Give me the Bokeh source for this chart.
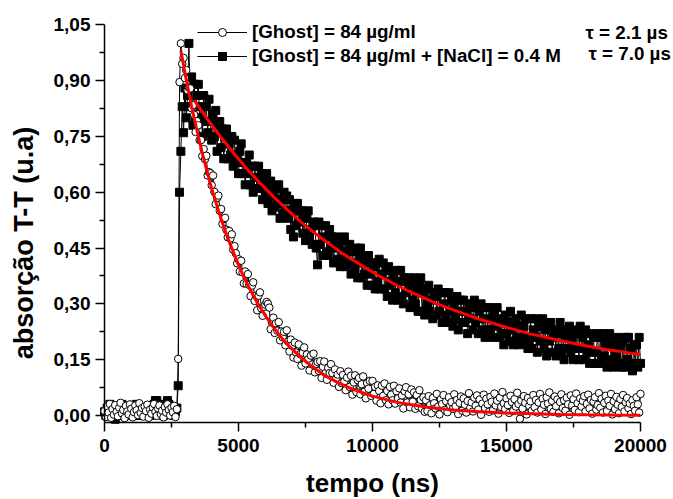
import math
from bokeh.plotting import figure
from bokeh.models import (Range1d, FixedTicker, CustomJSTickFormatter,
                          Legend, LegendItem, Label)
from bokeh.embed import file_html
from bokeh.resources import INLINE

# ---------------- data ----------------
# sampling grid of both traces (ns)
t_start = 0
t_step = 50

# [Ghost] = 84 ug/ml  (open circles)
ghost_y = [
    0.012, -0.004, 0.025, 0.008, 0.031, -0.006, 0.017, 0.002, 0.028, 0.010,
    -0.002, 0.021, 0.034, 0.006, 0.015, -0.007, 0.026, 0.011, 0.003, 0.030,
    0.018, -0.005, 0.009, 0.027, 0.014, 0.001, 0.033, 0.007, 0.020, -0.003,
    0.024, 0.012, 0.029, -0.006, 0.016, 0.005, 0.022, 0.031, 0.010, -0.001,
    0.019, 0.027, 0.004, 0.013, -0.005, 0.023, 0.008, 0.030, 0.015, 0.000,
    0.021, 0.009, 0.026, -0.004, 0.017,
    0.152, 0.896, 1.000, 0.945,
    0.961, 0.907, 0.928, 0.874, 0.881, 0.879, 0.826, 0.834, 0.808, 0.762, 0.791,
    0.780, 0.740, 0.740, 0.697, 0.716, 0.689, 0.698, 0.645, 0.654, 0.651,
    0.619, 0.645, 0.601, 0.568, 0.585, 0.591, 0.550, 0.555, 0.515, 0.528,
    0.531, 0.499, 0.479, 0.496, 0.476, 0.487, 0.446, 0.455, 0.436, 0.409,
    0.420, 0.387, 0.416, 0.385, 0.355, 0.387, 0.354, 0.380, 0.351, 0.321,
    0.349, 0.358, 0.308, 0.322, 0.283, 0.322, 0.331, 0.288, 0.268, 0.292,
    0.298, 0.305, 0.300, 0.290, 0.232, 0.250, 0.263, 0.222, 0.248, 0.228,
    0.251, 0.202, 0.226, 0.210, 0.225, 0.189, 0.229, 0.199, 0.172, 0.204,
    0.188, 0.156, 0.196, 0.169, 0.152, 0.191, 0.165, 0.134, 0.169, 0.183,
    0.140, 0.164, 0.151, 0.121, 0.161, 0.137, 0.166, 0.116, 0.139, 0.144,
    0.120, 0.146, 0.101, 0.131, 0.145, 0.114, 0.096, 0.128, 0.114, 0.138,
    0.114, 0.088, 0.124, 0.100, 0.110, 0.077, 0.119, 0.087, 0.109, 0.092,
    0.068, 0.102, 0.118, 0.077, 0.107, 0.056, 0.089, 0.108, 0.063, 0.095,
    0.101, 0.057, 0.084, 0.105, 0.064, 0.046, 0.087, 0.072, 0.093, 0.053,
    0.093, 0.058, 0.077, 0.040, 0.081, 0.066, 0.033, 0.080, 0.053, 0.086,
    0.041, 0.066, 0.030, 0.077, 0.056, 0.041, 0.080, 0.032, 0.065, 0.046,
    0.073, 0.035, 0.054, 0.019, 0.065, 0.076, 0.035, 0.057, 0.022, 0.070,
    0.037, 0.062, 0.018, 0.055, 0.025, 0.068, 0.042, 0.019, 0.049, 0.010,
    0.041, 0.012, 0.052, 0.028, 0.006, 0.047, 0.033, 0.019, 0.058, 0.024,
    0.003, 0.044, 0.031, 0.055, 0.015, 0.038, 0.009, 0.049, 0.027, 0.036,
    0.018, 0.057, 0.025, 0.042, 0.004, 0.034, 0.051, 0.013, 0.046, 0.029,
    0.008, 0.039, 0.060, 0.021, 0.035, 0.011, 0.048, 0.026, 0.054, 0.016,
    0.043, 0.002, 0.032, 0.056, 0.020, 0.045, 0.030, 0.010, 0.050, 0.037,
    0.014, 0.059, 0.027, 0.040, 0.005, 0.048, 0.023, 0.063, 0.033, 0.017,
    0.046, 0.028, 0.007, 0.053, 0.036, 0.012, 0.044, 0.024, 0.061, 0.031,
    -0.009, 0.040, 0.019, 0.052, 0.034, 0.003, 0.047, 0.026, 0.038, 0.013,
    0.055, 0.022, 0.042, 0.008, 0.035, 0.058, 0.016, 0.045, 0.029, 0.004,
    0.049, 0.032, 0.062, 0.018, 0.039, 0.010, 0.051, 0.025, 0.043, 0.006,
    0.036, 0.057, 0.020, 0.041, 0.013, 0.048, 0.030, 0.002, 0.054, 0.027,
    0.044, 0.015, 0.059, 0.033, 0.009, 0.046, 0.024, 0.039, 0.052, 0.011,
    0.031, 0.056, 0.019, 0.042, 0.005, 0.037, 0.049, 0.016, 0.028, 0.060,
    0.021, 0.045, 0.008, 0.034, 0.053, 0.012, 0.040, 0.026, 0.058, 0.003,
    0.038, 0.017, 0.050, 0.029, 0.006, 0.044, 0.023, 0.055, 0.011, 0.035,
    0.047, 0.020, 0.032, 0.004, 0.041, 0.026, 0.013, 0.049, 0.030, 0.008,
    0.058,
]

# [Ghost] = 84 ug/ml + [NaCl] = 0.4 M  (filled squares)
nacl_y = [
    0.01, 0.00, 0.02, 0.01, 0.03, 0.00, 0.01, 0.02, -0.01, 0.01,
    0.02, 0.00, 0.01, 0.03, 0.01, 0.00, 0.02, 0.01, 0.02, 0.00,
    0.01, 0.02, 0.00, 0.01, 0.03, 0.01, 0.02, 0.00, 0.01, 0.02,
    0.00, 0.01, 0.02, 0.01, 0.00, 0.02, 0.01, 0.03, 0.04, 0.04,
    0.03, 0.02, 0.01, 0.02, 0.00, 0.01, 0.03, 0.04, 0.03, 0.02,
    0.01, 0.02, 0.00, 0.01, 0.02,
    0.08, 0.60, 0.71, 0.83, 0.76, 0.88, 0.80, 0.86, 1.00, 0.83, 0.91, 0.78,
    0.89, 0.79, 0.86, 0.89, 0.80, 0.83, 0.75, 0.86, 0.79, 0.83,
    0.76, 0.85, 0.79, 0.74, 0.81, 0.75, 0.82, 0.71, 0.78, 0.79,
    0.72, 0.77, 0.69, 0.75, 0.77, 0.69, 0.73, 0.70, 0.75, 0.67,
    0.74, 0.68, 0.70, 0.65, 0.71, 0.73, 0.65, 0.68, 0.62, 0.68,
    0.65, 0.70, 0.62, 0.67, 0.60, 0.67, 0.64, 0.61, 0.67, 0.61,
    0.65, 0.58, 0.63, 0.59, 0.65, 0.57, 0.61, 0.63, 0.55, 0.59,
    0.56, 0.61, 0.57, 0.62, 0.53, 0.58, 0.54, 0.60, 0.55, 0.59,
    0.53, 0.58, 0.50, 0.55, 0.48, 0.57, 0.51, 0.57, 0.52, 0.55,
    0.55, 0.49, 0.53, 0.47, 0.53, 0.55, 0.48, 0.50, 0.46, 0.52,
    0.51, 0.45, 0.405, 0.52, 0.46, 0.51, 0.43, 0.48, 0.51, 0.44,
    0.43, 0.50, 0.45, 0.48, 0.41, 0.47, 0.48, 0.42, 0.45, 0.40,
    0.47, 0.42, 0.48, 0.40, 0.44, 0.41, 0.46, 0.38, 0.44, 0.41,
    0.39, 0.45, 0.37, 0.43, 0.45, 0.37, 0.41, 0.38, 0.43, 0.35,
    0.43, 0.38, 0.41, 0.35, 0.40, 0.34, 0.41, 0.36, 0.42, 0.34,
    0.38, 0.41, 0.34, 0.39, 0.32, 0.40, 0.35, 0.36, 0.31, 0.38,
    0.33, 0.39, 0.31, 0.36, 0.39, 0.32, 0.30, 0.37, 0.33, 0.36,
    0.37, 0.29, 0.35, 0.31, 0.37, 0.30, 0.33, 0.28, 0.35, 0.37,
    0.28, 0.33, 0.27, 0.34, 0.30, 0.35, 0.28, 0.31, 0.26, 0.33,
    0.32, 0.27, 0.34, 0.28, 0.33, 0.25, 0.30, 0.33, 0.27, 0.25,
    0.33, 0.28, 0.31, 0.24, 0.30, 0.26, 0.32, 0.23, 0.28, 0.31,
    0.25, 0.31, 0.25, 0.28, 0.22, 0.30, 0.26, 0.29, 0.23, 0.31,
    0.25, 0.29, 0.22, 0.28, 0.30, 0.23, 0.26, 0.21, 0.29, 0.23,
    0.29, 0.23, 0.26, 0.21, 0.28, 0.24, 0.29, 0.21, 0.25, 0.22,
    0.26, 0.19, 0.27, 0.22, 0.25, 0.20, 0.28, 0.23, 0.19, 0.25,
    0.26, 0.21, 0.24, 0.19, 0.27, 0.20, 0.24, 0.21, 0.26, 0.18,
    0.19, 0.26, 0.18, 0.23, 0.21, 0.26, 0.17, 0.24, 0.20, 0.24,
    0.26, 0.18, 0.23, 0.16, 0.24, 0.20, 0.25, 0.17, 0.21, 0.23,
    0.16, 0.22, 0.18, 0.25, 0.17, 0.23, 0.15, 0.21, 0.23, 0.18,
    0.24, 0.17, 0.21, 0.15, 0.23, 0.18, 0.22, 0.15, 0.24, 0.18,
    0.21, 0.15, 0.23, 0.17, 0.19, 0.14, 0.22, 0.17, 0.21, 0.14,
    0.17, 0.22, 0.14, 0.21, 0.15, 0.22, 0.16, 0.19, 0.13, 0.21,
    0.22, 0.15, 0.19, 0.13, 0.20, 0.16, 0.21, 0.14, 0.18, 0.13,
    0.20, 0.13, 0.21, 0.15, 0.21, 0.14, 0.18, 0.12, 0.19, 0.14,
    0.19, 0.13, 0.21, 0.14,
]

# red exponential fits
fit_ghost_t = [2850, 2950, 3050, 3150, 3250, 3350, 3450, 3550, 3650, 3750, 3850,
               3950, 4050, 4150, 4250, 4350, 4450, 4550, 4650, 4750, 4850, 4950,
               5150, 5350, 5550, 5750, 5950, 6250, 6550, 6850, 7250, 7750, 8250,
               8750, 9250, 10000, 11000, 12000, 13000, 14000, 15000, 16000, 17000,
               18000, 19000, 20000]
fit_ghost_y = [0.980, 0.941, 0.903, 0.866, 0.831, 0.798, 0.766, 0.735, 0.705, 0.677,
               0.650, 0.623, 0.598, 0.574, 0.551, 0.529, 0.508, 0.487, 0.468, 0.449,
               0.431, 0.413, 0.380, 0.350, 0.323, 0.297, 0.274, 0.242, 0.214, 0.189,
               0.161, 0.131, 0.106, 0.087, 0.071, 0.052, 0.034, 0.023, 0.015, 0.010,
               0.0066, 0.0044, 0.0029, 0.0019, 0.0013, 0.0008]
fit_nacl_t = [3350, 3850, 4350, 4850, 5350, 5850, 6350, 6850, 7350, 7850, 8350, 8850,
              9350, 9850, 10350, 10850, 11350, 11850, 12350, 12850, 13350, 13850,
              14350, 14850, 15350, 15850, 16350, 16850, 17350, 17850, 18350, 18850,
              19350, 19850, 20000]
fit_nacl_y = [0.847, 0.795, 0.747, 0.702, 0.660, 0.621, 0.585, 0.551, 0.519, 0.490,
              0.463, 0.437, 0.414, 0.392, 0.371, 0.352, 0.334, 0.318, 0.302, 0.288,
              0.275, 0.262, 0.251, 0.240, 0.230, 0.220, 0.212, 0.204, 0.196, 0.189,
              0.182, 0.176, 0.171, 0.165, 0.164]

labels = ["[Ghost] = 84 µg/ml", "[Ghost] = 84 µg/ml + [NaCl] = 0.4 M"]
taus = ["τ = 2.1 µs", "τ = 7.0 µs"]
x_title = "tempo (ns)"
y_title = "absorção T-T (u.a)"
x_ticks = [0, 5000, 10000, 15000, 20000]
x_minor = [2500, 7500, 12500, 17500]
y_ticks = [0.0, 0.15, 0.30, 0.45, 0.60, 0.75, 0.90, 1.05]
y_minor = [0.075, 0.225, 0.375, 0.525, 0.675, 0.825, 0.975]
x_min, x_max = 0, 20000
y_min, y_max = -0.0188, 1.05

ghost_t = [t_start + k * t_step for k in range(len(ghost_y))]
nacl_t = [t_start + k * t_step for k in range(len(nacl_y))]

# ---------------- figure ----------------
FONT = "Liberation Sans"
W, H = 673, 499
# plot box in pixels: x 0..20000 -> 104..640, y -0.0188..1.05 -> 422..24.3
px_x = (640 - 104) / (x_max - x_min)
px_y = (422 - 24.3) / (y_max - y_min)

p = figure(width=W, height=H, output_backend="svg", toolbar_location=None,
           x_range=Range1d(x_min - 104 / px_x, x_max + (W - 640) / px_x),
           y_range=Range1d(y_min - (H - 422) / px_y, y_max + 24.3 / px_y),
           min_border=0, min_border_left=0, min_border_right=0,
           min_border_top=0, min_border_bottom=0)
p.outline_line_color = None
p.grid.visible = False
p.background_fill_color = "white"
p.border_fill_color = "white"

s_line = p.line(nacl_t, nacl_y, line_color="black", line_width=1)
s_pts = p.scatter(nacl_t, nacl_y, marker="square", size=8,
                  fill_color="black", line_color="black", line_width=1)
c_line = p.line(ghost_t, ghost_y, line_color="black", line_width=1)
c_pts = p.scatter(ghost_t, ghost_y, marker="circle", size=7.5,
                  fill_color="white", line_color="black", line_width=1)
p.line(fit_ghost_t, fit_ghost_y, line_color="#ff0000", line_width=3)
p.line(fit_nacl_t, fit_nacl_y, line_color="#ff0000", line_width=3)

# axes (drawn at fixed positions inside the canvas)
xa = p.xaxis[0]
xa.ticker = FixedTicker(ticks=x_ticks, minor_ticks=x_minor)
xa.formatter = CustomJSTickFormatter(code="return tick.toFixed(0);")
xa.fixed_location = y_min
xa.bounds = (x_min, x_max)
ya = p.yaxis[0]
ya.ticker = FixedTicker(ticks=y_ticks, minor_ticks=y_minor)
ya.formatter = CustomJSTickFormatter(code="return tick.toFixed(2).replace('.', ',');")
ya.fixed_location = x_min
ya.bounds = (y_min, y_max)

for ax in (xa, ya):
    ax.axis_line_width = 1.5
    ax.axis_line_color = "black"
    ax.major_tick_line_width = 1.5
    ax.minor_tick_line_width = 1.5
    ax.major_tick_line_color = "black"
    ax.minor_tick_line_color = "black"
    ax.major_tick_in = 0
    ax.minor_tick_in = 0
    ax.major_tick_out = 9
    ax.minor_tick_out = 5
    ax.major_label_text_font = FONT
    ax.major_label_text_font_style = "bold"
    ax.major_label_text_font_size = "19px"
    ax.major_label_text_color = "black"
xa.major_label_standoff = 7
ya.major_label_standoff = 5

# axis titles
p.add_layout(Label(x=23, y=H - 242.5, x_units="screen", y_units="screen",
                   text=y_title, angle=math.pi / 2,
                   text_align="center", text_baseline="middle",
                   text_font=FONT, text_font_style="bold", text_font_size="27px",
                   text_color="black"))
p.add_layout(Label(x=372, y=H - 482.5, x_units="screen", y_units="screen",
                   text=x_title, text_align="center", text_baseline="middle",
                   text_font=FONT, text_font_style="bold", text_font_size="26px",
                   text_color="black"))

legend = Legend(items=[LegendItem(label=labels[0], renderers=[c_line, c_pts]),
                       LegendItem(label=labels[1], renderers=[s_line, s_pts])],
                location=(197, H - 66.5), glyph_width=50, glyph_height=20,
                label_height=20, label_standoff=5, padding=0, margin=0, spacing=2,
                border_line_color=None, background_fill_alpha=0,
                label_text_font=FONT, label_text_font_style="bold",
                label_text_font_size="18.8px", label_text_color="black")
p.add_layout(legend)

for i, (tx, ty) in enumerate([(585, H - 31.7), (588, H - 53.3)]):
    p.add_layout(Label(x=tx, y=ty, x_units="screen", y_units="screen",
                       text=taus[i], text_align="left", text_baseline="middle",
                       text_font=FONT, text_font_style="bold",
                       text_font_size="18.8px", text_color="black"))

open("out.html", "w").write(file_html(p, INLINE))
